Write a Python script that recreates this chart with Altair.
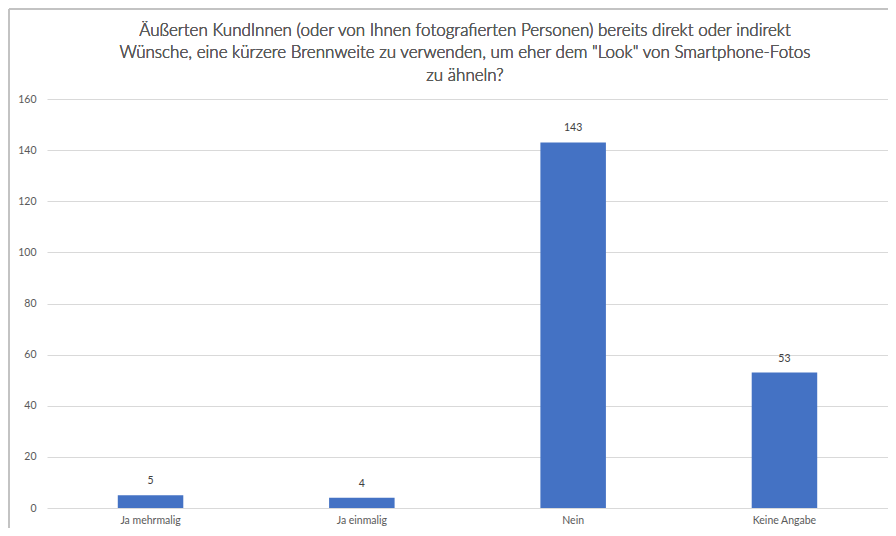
import altair as alt
import pandas as pd

categories = ["Ja mehrmalig", "Ja einmalig", "Nein", "Keine Angabe"]
values = [5, 4, 143, 53]
title_lines = [
    "Äußerten KundInnen (oder von Ihnen fotografierten Personen) bereits direkt oder indirekt",
    "Wünsche, eine kürzere Brennweite zu verwenden, um eher dem \"Look\" von Smartphone-Fotos",
    "zu ähneln?",
]

df = pd.DataFrame({"cat": categories, "val": values})

FONT = "Lato"
GREY = "#595959"

x = alt.X("cat:N", sort=categories, title=None,
          scale=alt.Scale(paddingInner=0.69, paddingOuter=0.335),
          axis=alt.Axis(labelAngle=0, ticks=False, domain=False, labelPadding=7,
                        labelFontSize=10.5, labelColor=GREY, labelFont=FONT))
y = alt.Y("val:Q", title=None,
          scale=alt.Scale(domain=[0, 160]),
          axis=alt.Axis(values=list(range(0, 161, 20)), ticks=False, domain=False,
                        gridColor="#d9d9d9", gridWidth=1, labelPadding=11,
                        labelFontSize=10.5, labelColor=GREY, labelFont=FONT))

base = alt.Chart(df)
bars = base.mark_bar(color="#4472c4").encode(x=x, y=y)
labels = base.mark_text(dy=-9, fontSize=10.5, color="#404040", font=FONT, baseline="bottom").encode(
    x=alt.X("cat:N", sort=categories), y="val:Q", text="val:Q")

frame_v = alt.Chart(df).mark_rule(color="#bfbfbf", strokeWidth=1).encode(
    x=alt.value(-38), y=alt.value(-90), y2=alt.value(429))
frame_h = alt.Chart(df).mark_rule(color="#bfbfbf", strokeWidth=1).encode(
    x=alt.value(-38), x2=alt.value(841), y=alt.value(-90))

title_y = [-68, -46, -23]
title_marks = [
    alt.Chart(df).mark_text(font=FONT, fontSize=17, fontWeight=300, color=GREY,
                            align="center", baseline="middle").encode(
        x=alt.value(418), y=alt.value(ty), text=alt.value(line))
    for line, ty in zip(title_lines, title_y)
]

chart = alt.layer(frame_v, frame_h, bars, labels, *title_marks).properties(
    width=841, height=409,
    padding={"left": 39, "top": 91, "right": 0, "bottom": 20},
    autosize=alt.AutoSizeParams(type="none"),
).configure_view(stroke=None)

chart.save("out.html", embed_options={"renderer": "svg", "actions": False})
